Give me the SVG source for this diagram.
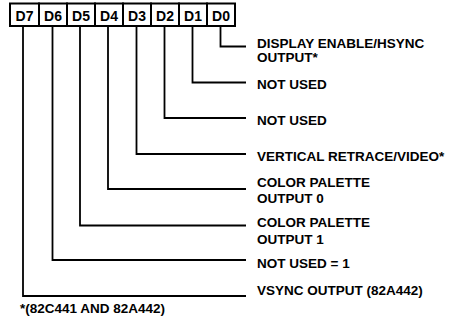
<svg xmlns="http://www.w3.org/2000/svg" width="450" height="320" viewBox="0 0 450 320">
<style>
.box{fill:#fff;stroke:#000;stroke-width:2}
.bit{font-family:"Liberation Sans",Arial,sans-serif;font-weight:bold;font-size:14px;text-anchor:middle;fill:#000}
.lbl{font-family:"Liberation Sans",Arial,sans-serif;font-weight:bold;font-size:13.5px;fill:#000}
.wire{fill:none;stroke:#000;stroke-width:1.8}
</style>
<rect width="450" height="320" fill="#fff"/>
<g id="D7"><rect class="box" x="10" y="3.5" width="29" height="22.5"/><text class="bit" x="24.5" y="20.5">D7</text></g>
<g id="D6"><rect class="box" x="39" y="3.5" width="28" height="22.5"/><text class="bit" x="53" y="20.5">D6</text></g>
<g id="D5"><rect class="box" x="67" y="3.5" width="28" height="22.5"/><text class="bit" x="81" y="20.5">D5</text></g>
<g id="D4"><rect class="box" x="95" y="3.5" width="28" height="22.5"/><text class="bit" x="109" y="20.5">D4</text></g>
<g id="D3"><rect class="box" x="123" y="3.5" width="28" height="22.5"/><text class="bit" x="137" y="20.5">D3</text></g>
<g id="D2"><rect class="box" x="151" y="3.5" width="28" height="22.5"/><text class="bit" x="165" y="20.5">D2</text></g>
<g id="D1"><rect class="box" x="179" y="3.5" width="28" height="22.5"/><text class="bit" x="193" y="20.5">D1</text></g>
<g id="D0"><rect class="box" x="207" y="3.5" width="28" height="22.5"/><text class="bit" x="221" y="20.5">D0</text></g>
<g id="connectors">
<path class="wire" d="M220.5 27V46.5H246"/>
<path class="wire" d="M192.5 27V82.5H246"/>
<path class="wire" d="M164.5 27V118H246"/>
<path class="wire" d="M136.5 27V154H246"/>
<path class="wire" d="M108 27V189H246"/>
<path class="wire" d="M80 27V225.5H246"/>
<path class="wire" d="M52.5 27V260H246"/>
<path class="wire" d="M23 27V296H246"/>
</g>
<g id="label-D0"><text class="lbl" x="257" y="48.3">DISPLAY ENABLE/HSYNC</text><text class="lbl" x="257" y="61.7">OUTPUT*</text></g>
<g id="label-D1"><text class="lbl" x="257" y="89.3">NOT USED</text></g>
<g id="label-D2"><text class="lbl" x="257" y="125">NOT USED</text></g>
<g id="label-D3"><text class="lbl" x="257" y="160.7">VERTICAL RETRACE/VIDEO*</text></g>
<g id="label-D4"><text class="lbl" x="257" y="187.3">COLOR PALETTE</text><text class="lbl" x="257" y="203.3">OUTPUT 0</text></g>
<g id="label-D5"><text class="lbl" x="257" y="227">COLOR PALETTE</text><text class="lbl" x="257" y="243.5">OUTPUT 1</text></g>
<g id="label-D6"><text class="lbl" x="257" y="267.7">NOT USED = 1</text></g>
<g id="label-D7"><text class="lbl" x="257" y="295">VSYNC OUTPUT (82A442)</text></g>
<text class="lbl" x="20" y="313">*(82C441 AND 82A442)</text>
</svg>
